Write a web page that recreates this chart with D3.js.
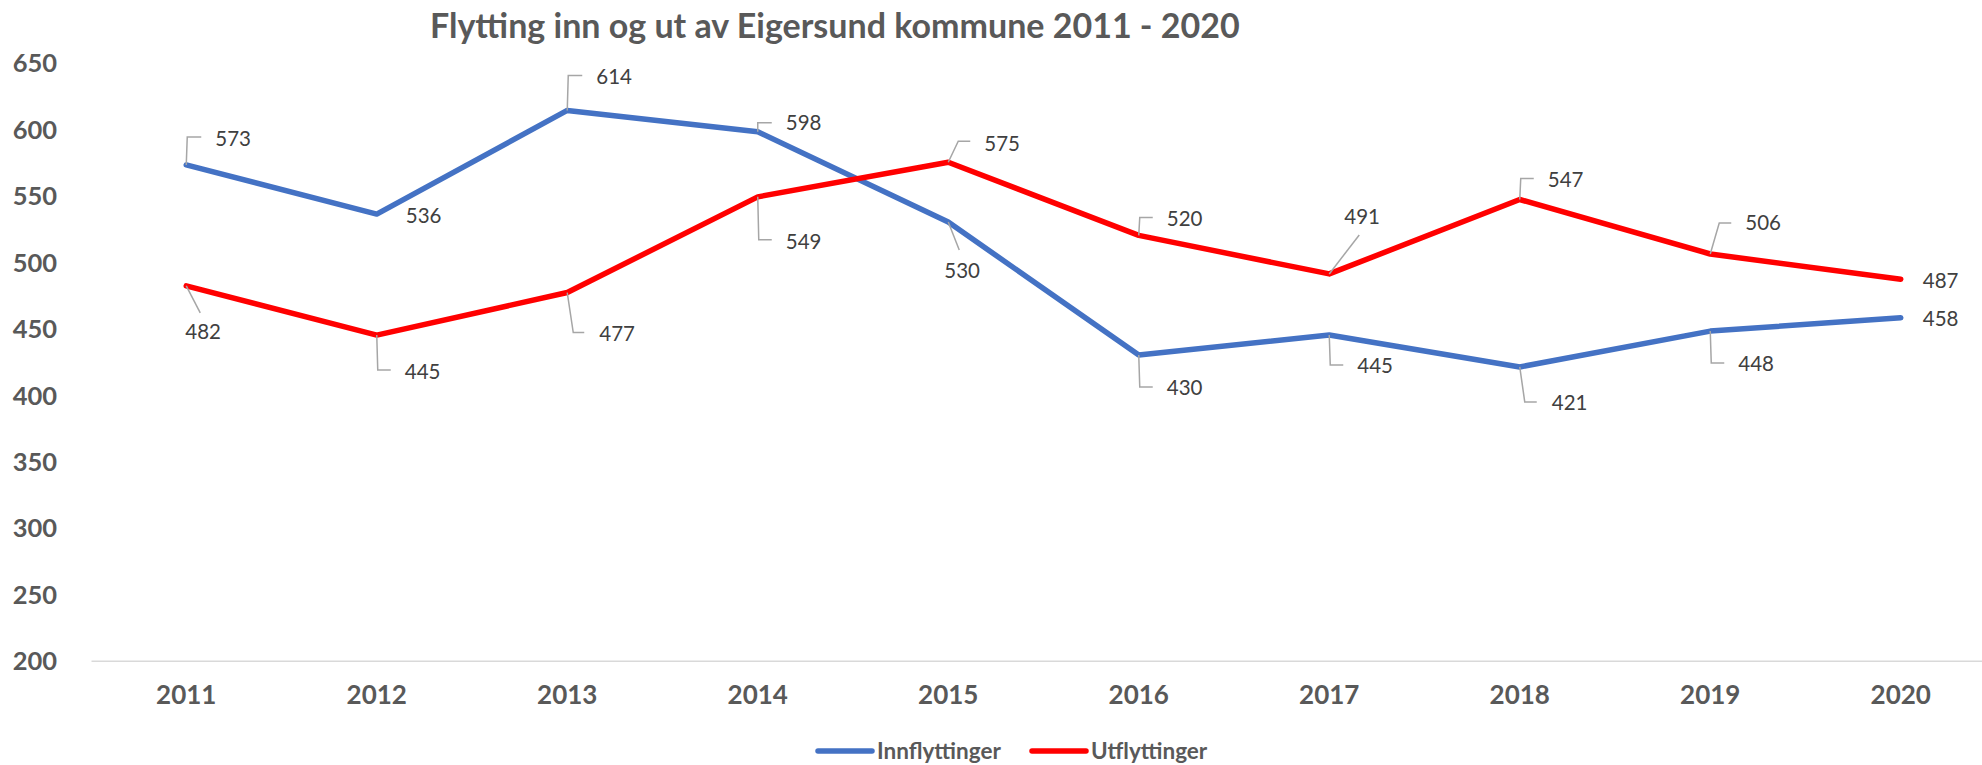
<!DOCTYPE html>
<html>
<head>
<meta charset="utf-8">
<script src="https://cdn.jsdelivr.net/npm/d3@7"></script>
</head>
<body>
<div id="app"></div>
<script>
const years = ['2011', '2012', '2013', '2014', '2015', '2016', '2017', '2018', '2019', '2020']
const innflyttinger = [573, 536, 614, 598, 530, 430, 445, 421, 448, 458]
const utflyttinger = [482, 445, 477, 549, 575, 520, 491, 547, 506, 487]
const yTicks = [200, 250, 300, 350, 400, 450, 500, 550, 600, 650]
const seriesNames = ['Innflyttinger', 'Utflyttinger']
const title = 'Flytting inn og ut av Eigersund kommune 2011 - 2020'

// label placement relative to each point (text left / centre, leader line)
const inLabelPos = [
  {dx: 29, dy: -26, leader: [[0, 0], [1, -28], [15, -28]]},
  {dx: 29, dy: 2, leader: null},
  {dx: 29, dy: -34, leader: [[0, 0], [1, -35], [15, -35]]},
  {dx: 28, dy: -9, leader: [[0, 0], [0, -9], [14, -9]]},
  {dx: -4, dy: 49, leader: [[0, 0], [11, 28]]},
  {dx: 28, dy: 33, leader: [[0, 0], [1, 32], [14, 32]]},
  {dx: 28, dy: 31, leader: [[0, 0], [1, 30], [14, 30]]},
  {dx: 32, dy: 36, leader: [[0, 0], [5, 35], [17, 35]]},
  {dx: 28, dy: 33, leader: [[0, 0], [1, 32], [14, 32]]},
  {dx: 22, dy: 1, leader: null}
]
const utLabelPos = [
  {dx: -1, dy: 46, leader: [[0, 0], [14, 27]]},
  {dx: 28, dy: 37, leader: [[0, 0], [1, 35], [14, 35]]},
  {dx: 32, dy: 41, leader: [[0, 0], [6, 40], [17, 40]]},
  {dx: 28, dy: 45, leader: [[0, 0], [1, 43], [14, 43]]},
  {dx: 36, dy: -19, leader: [[0, 0], [10, -21], [22, -21]]},
  {dx: 28, dy: -17, leader: [[0, 0], [1, -18], [14, -18]]},
  {dx: 15, dy: -57, leader: [[0, 0], [30, -39]]},
  {dx: 28, dy: -20, leader: [[0, 0], [1, -21], [14, -21]]},
  {dx: 35, dy: -31, leader: [[0, 0], [9, -31], [21, -31]]},
  {dx: 22, dy: 1, leader: null}
]

const width = 1982
const height = 765
const font = 'Lato, "Open Sans", sans-serif'
const grey = '#595959'
const colors = ['#4472C4', '#FF0000']

d3.select('body').style('margin', '0px')
var svg = d3.select('#app').append('svg')
  .attr('width', width).attr('height', height)
  .style('background', '#ffffff').style('display', 'block')

var x = d3.scaleBand().domain(years).range([91, 1996]).padding(0)
var y = d3.scaleLinear().domain([200, 650]).range([660.7, 62.6])
const cx = d => x(d) + x.bandwidth() / 2

svg.append('text')
  .attr('x', 430).attr('y', 38)
  .style('font-family', font).style('font-weight', 700).style('font-size', '34px')
  .style('fill', grey)
  .text(title)

var yAxis = svg.append('g')
  .attr('transform', 'translate(57,0)')
  .call(d3.axisLeft(y).tickValues(yTicks).tickSize(0).tickPadding(0))
yAxis.select('.domain').remove()
yAxis.selectAll('text')
  .attr('dy', '0.36em')
  .style('font-family', font).style('font-weight', 700).style('font-size', '25.5px')
  .style('fill', grey)

var xAxis = svg.append('g')
  .attr('transform', 'translate(0,' + y(200) + ')')
  .call(d3.axisBottom(x).tickSize(0).tickPadding(0))
xAxis.select('.domain').attr('stroke', '#d9d9d9').attr('stroke-width', 1.5)
xAxis.selectAll('text')
  .attr('y', 34).attr('dy', '0.36em')
  .style('font-family', font).style('font-weight', 700).style('font-size', '26px')
  .style('fill', grey)

const line = d3.line().x((d, i) => cx(years[i])).y(d => y(d))

const series = [innflyttinger, utflyttinger]
series.forEach((values, s) => {
  svg.append('path')
    .datum(values)
    .attr('d', line)
    .attr('fill', 'none')
    .attr('stroke', colors[s])
    .attr('stroke-width', 5.5)
    .attr('stroke-linejoin', 'round')
    .attr('stroke-linecap', 'round')
})

const leaderLine = d3.line()
series.forEach((values, s) => {
  const pos = s === 0 ? inLabelPos : utLabelPos
  var g = svg.append('g')
  values.forEach((v, i) => {
    const px = cx(years[i])
    const py = y(v)
    const p = pos[i]
    if (p.leader) {
      g.append('path')
        .attr('d', leaderLine(p.leader.map(q => [px + q[0], py + q[1]])))
        .attr('fill', 'none')
        .attr('stroke', '#a6a6a6')
        .attr('stroke-width', 1.5)
    }
    g.append('text')
      .attr('x', px + p.dx).attr('y', py + p.dy).attr('dy', '0.36em')
      .style('font-family', font).style('font-size', '20.5px')
      .style('fill', '#404040')
      .text(v)
  })
})

// legend
const legendX = [818, 1032]
var legend = svg.append('g')
seriesNames.forEach((name, s) => {
  legend.append('line')
    .attr('x1', legendX[s]).attr('x2', legendX[s] + 54)
    .attr('y1', 751).attr('y2', 751)
    .attr('stroke', colors[s]).attr('stroke-width', 5.5)
    .attr('stroke-linecap', 'round')
  legend.append('text')
    .attr('x', legendX[s] + 59).attr('y', 751).attr('dy', '0.36em')
    .style('font-family', font).style('font-weight', 700).style('font-size', '22.5px')
    .style('fill', grey)
    .text(name)
})
</script>
</body>
</html>
